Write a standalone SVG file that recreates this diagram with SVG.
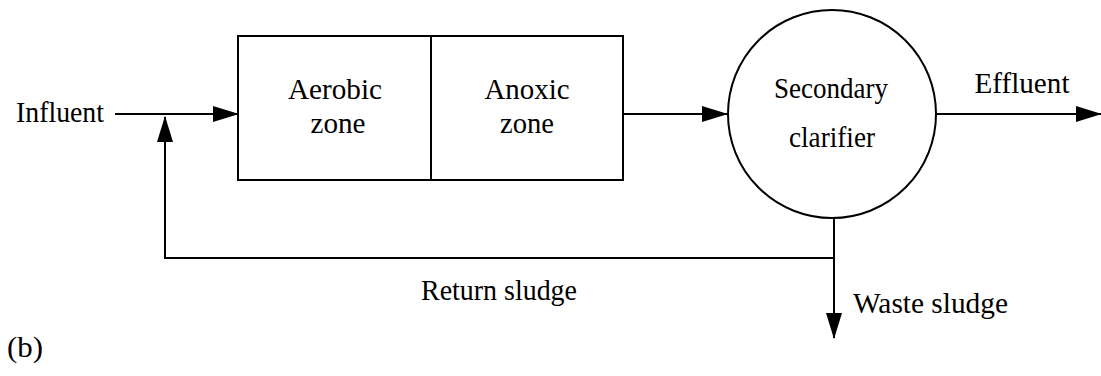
<svg xmlns="http://www.w3.org/2000/svg" width="1101" height="376" viewBox="0 0 1101 376">
<style>
text { font-family: "Liberation Serif", "Times New Roman", serif; font-size: 29px; fill: #000; }
.c { text-anchor: middle; }
.shape { fill: #fff; stroke: #000; stroke-width: 2; }
.line { fill: none; stroke: #000; stroke-width: 2; }
</style>
<defs>
<marker id="arr" markerUnits="userSpaceOnUse" markerWidth="26" markerHeight="16" refX="25" refY="8" orient="auto">
<path d="M0,0 L26,8 L0,16 Z" fill="#000"/>
</marker>
</defs>
<rect width="1101" height="376" fill="#fff"/>
<g id="aerobic">
<rect class="shape" x="238" y="36" width="193" height="144"/>
<text class="c" x="335" y="99" textLength="94" lengthAdjust="spacingAndGlyphs">Aerobic</text>
<text class="c" x="338" y="133" textLength="55" lengthAdjust="spacingAndGlyphs">zone</text>
</g>
<g id="anoxic">
<rect class="shape" x="431" y="36" width="192" height="144"/>
<text class="c" x="527" y="99" textLength="85" lengthAdjust="spacingAndGlyphs">Anoxic</text>
<text class="c" x="527" y="133" textLength="54" lengthAdjust="spacingAndGlyphs">zone</text>
</g>
<g id="clarifier">
<circle class="shape" cx="832" cy="114" r="104"/>
<text class="c" x="831" y="98" textLength="114" lengthAdjust="spacingAndGlyphs">Secondary</text>
<text class="c" x="832" y="147" textLength="86" lengthAdjust="spacingAndGlyphs">clarifier</text>
</g>
<g id="labels">
<text x="16" y="122" textLength="88" lengthAdjust="spacingAndGlyphs">Influent</text>
<text class="c" x="1022" y="93" textLength="95" lengthAdjust="spacingAndGlyphs">Effluent</text>
<text class="c" x="499" y="300" textLength="156" lengthAdjust="spacingAndGlyphs">Return sludge</text>
<text x="853" y="313" textLength="155" lengthAdjust="spacingAndGlyphs">Waste sludge</text>
<text x="7" y="357" textLength="36" lengthAdjust="spacingAndGlyphs">(b)</text>
</g>
<g id="connectors">
<line class="line" x1="115" y1="114" x2="238" y2="114" marker-end="url(#arr)"/>
<line class="line" x1="623" y1="114" x2="727" y2="114" marker-end="url(#arr)"/>
<line class="line" x1="936" y1="114" x2="1101" y2="114" marker-end="url(#arr)"/>
<line class="line" x1="834" y1="218" x2="834" y2="338" marker-end="url(#arr)"/>
<polyline class="line" points="834,258 165,258 165,117" marker-end="url(#arr)"/>
</g>
</svg>
